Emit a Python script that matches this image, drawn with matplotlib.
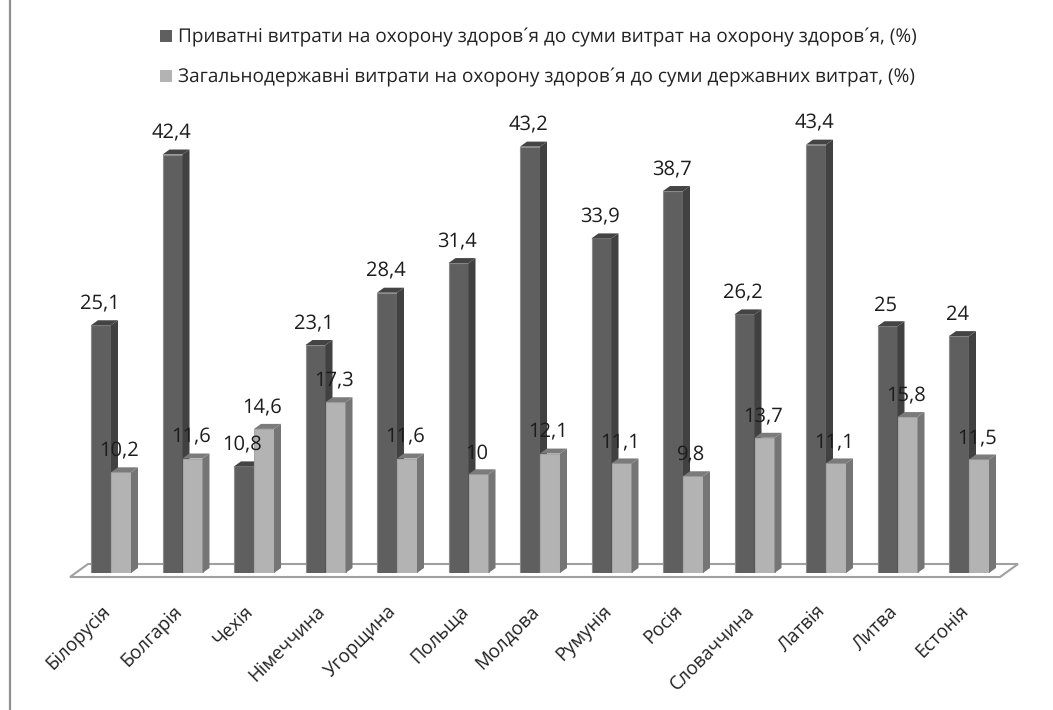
import matplotlib
matplotlib.use('Agg')
import matplotlib.pyplot as plt
from matplotlib.patches import Polygon, Patch
from matplotlib.lines import Line2D
from matplotlib.transforms import ScaledTranslation

plt.rcParams['font.family'] = ['Open Sans', 'DejaVu Sans']
plt.rcParams['text.hinting'] = 'no_hinting'

countries = ['Білорусія', 'Болгарія', 'Чехія', 'Німеччина', 'Угорщина', 'Польща', 'Молдова',
             'Румунія', 'Росія', 'Словаччина', 'Латвія', 'Литва', 'Естонія']
private = [25.1, 42.4, 10.8, 23.1, 28.4, 31.4, 43.2, 33.9, 38.7, 26.2, 43.4, 25, 24]
public = [10.2, 11.6, 14.6, 17.3, 11.6, 10, 12.1, 11.1, 9.8, 13.7, 11.1, 15.8, 11.5]
private_name = 'Приватні витрати на охорону здоров´я до суми витрат на охорону здоров´я, (%)'
public_name = 'Загальнодержавні витрати на охорону здоров´я до суми державних витрат, (%)'

W, H = 1053, 710
BASE_PX = 573
PITCH = 71.5
UNIT = 9.87
X0 = 111

fig = plt.figure(figsize=(W / 100, H / 100), dpi=100)
ax = fig.add_axes([0, 1 - BASE_PX / H, 1, BASE_PX / H])
ax.set_xlim(-X0 / PITCH, (W - X0) / PITCH)
ax.set_ylim(0, BASE_PX / UNIT)

bar_w = 20 / PITCH
dx = 7 / PITCH
dy = 5 / UNIT


def draw_bars(xs, values, front, side, top, edge):
    ax.bar(xs, values, width=bar_w, color=front, edgecolor=edge, linewidth=0.8, zorder=3)
    for x, v in zip(xs, values):
        l, r = x - bar_w / 2, x + bar_w / 2
        ax.add_patch(Polygon([(r, 0), (r + dx, dy), (r + dx, v + dy), (r, v)], fc=side, ec='none', zorder=3))
        ax.add_patch(Polygon([(l, v), (l + dx, v + dy), (r + dx, v + dy), (r, v)], fc=top, ec='none', zorder=3))


xs = list(range(len(countries)))

# floor of the 3d chart
floor = [(-41 / PITCH, -4 / UNIT), (889 / PITCH, -4 / UNIT), (907 / PITCH, 9 / UNIT), (-23 / PITCH, 9 / UNIT)]
ax.add_patch(Polygon(floor, fc='white', ec='#a0a0a0', lw=1.5, clip_on=False, zorder=1))

draw_bars([x - bar_w / 2 for x in xs], private, '#5f5f5f', '#414141', '#444444', '#8c8c8c')
draw_bars([x + bar_w / 2 for x in xs], public, '#b3b3b3', '#757575', '#7b7b7b', '#a6a6a6')

for x, v in zip(xs, private):
    ax.text(x - bar_w / 2 - 1.5 / PITCH, v + 21 / UNIT, f'{v:g}'.replace('.', ','), ha='center', va='center',
            fontsize=14.5, color='#1c1c1c', zorder=5)
for x, v in zip(xs, public):
    ax.text(x + bar_w / 2 - 1.5 / PITCH, v + 21 / UNIT, f'{v:g}'.replace('.', ','), ha='center', va='center',
            fontsize=14.5, color='#1c1c1c', zorder=5)

ax.set_xticks(xs)
ax.set_xticklabels(countries, rotation=45, ha='right', va='top', rotation_mode='anchor', fontsize=13.4, color='#222222')
ax.tick_params(axis='x', length=0, pad=21)
shift = ScaledTranslation(-9.5 / 100, 0, fig.dpi_scale_trans)
for lab in ax.get_xticklabels():
    lab.set_transform(lab.get_transform() + shift)
ax.set_yticks([])
for s in ax.spines.values():
    s.set_visible(False)
ax.patch.set_alpha(0)

# grey line down the left side of the picture
fig.add_artist(Line2D([10 / W, 10 / W], [0, 1], color='#8f8f8f', lw=1.6))

handles = [Patch(fc='#5f5f5f', label=private_name), Patch(fc='#b3b3b3', label=public_name)]
fig.legend(handles=handles, loc='upper left', bbox_to_anchor=(143 / W, 1 - 11 / H), frameon=False,
           fontsize=13.72, labelcolor='#222222', handlelength=0.63, handleheight=0.63, handletextpad=0.3,
           labelspacing=1.1, borderpad=0.4)

fig.savefig('out.png', dpi=100)
